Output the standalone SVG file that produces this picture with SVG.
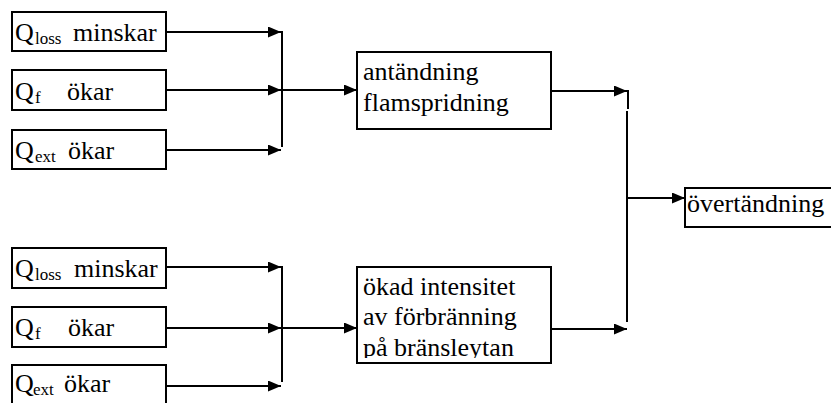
<svg xmlns="http://www.w3.org/2000/svg" width="831" height="403" viewBox="0 0 831 403">
<style>
.box{fill:#fff;stroke:#000;stroke-width:2}
text{font-family:'Liberation Serif','Times New Roman',Times,serif;font-size:26px;fill:#000}
.s{font-size:17px}
.c{stroke:#000;stroke-width:2;fill:none}
</style>
<defs>
<marker id="ah" markerUnits="userSpaceOnUse" markerWidth="14" markerHeight="12" refX="13" refY="5.5" orient="auto">
<path d="M0,0 L13,5.5 L0,11 z" fill="#000"/>
</marker>
<clipPath id="clipB"><rect x="357" y="267" width="194" height="91"/></clipPath>
</defs>
<rect width="831" height="403" fill="#fff"/>
<g id="connectors">
<line class="c" x1="167" y1="32" x2="281" y2="32" marker-end="url(#ah)"/>
<line class="c" x1="167" y1="90" x2="281" y2="90" marker-end="url(#ah)"/>
<line class="c" x1="167" y1="150" x2="281" y2="150" marker-end="url(#ah)"/>
<line class="c" x1="282" y1="31" x2="282" y2="147"/>
<line class="c" x1="282" y1="90" x2="357" y2="90" marker-end="url(#ah)"/>
<line class="c" x1="167" y1="267" x2="281" y2="267" marker-end="url(#ah)"/>
<line class="c" x1="167" y1="328" x2="281" y2="328" marker-end="url(#ah)"/>
<line class="c" x1="167" y1="386" x2="281" y2="386" marker-end="url(#ah)"/>
<line class="c" x1="282" y1="266" x2="282" y2="382"/>
<line class="c" x1="282" y1="328" x2="357" y2="328" marker-end="url(#ah)"/>
<line class="c" x1="552" y1="91" x2="627" y2="91" marker-end="url(#ah)"/>
<line class="c" x1="552" y1="329" x2="627" y2="329" marker-end="url(#ah)"/>
<line class="c" x1="628" y1="90" x2="628" y2="109"/>
<line class="c" x1="627" y1="111" x2="627" y2="322"/>
<line class="c" x1="627" y1="198" x2="685" y2="198" marker-end="url(#ah)"/>
</g>
<g id="n1">
<rect class="box" x="12" y="12" width="154" height="39"/>
<text y="41"><tspan x="15">Q</tspan><tspan class="s" x="35" y="44">loss</tspan><tspan x="73" y="41">minskar</tspan></text>
</g>
<g id="n2">
<rect class="box" x="12" y="70" width="154" height="40"/>
<text y="100"><tspan x="15">Q</tspan><tspan class="s" x="35" y="103">f</tspan><tspan x="67" y="100">ökar</tspan></text>
</g>
<g id="n3">
<rect class="box" x="12" y="130" width="154" height="39"/>
<text y="159"><tspan x="15">Q</tspan><tspan class="s" x="35" y="162">ext</tspan><tspan x="68" y="159">ökar</tspan></text>
</g>
<g id="n4">
<rect class="box" x="12" y="248" width="154" height="40"/>
<text y="277"><tspan x="15">Q</tspan><tspan class="s" x="35" y="280">loss</tspan><tspan x="74" y="277">minskar</tspan></text>
</g>
<g id="n5">
<rect class="box" x="12" y="307" width="154" height="40"/>
<text y="336"><tspan x="15">Q</tspan><tspan class="s" x="35" y="339">f</tspan><tspan x="68" y="336">ökar</tspan></text>
</g>
<g id="n6">
<rect class="box" x="12" y="365" width="154" height="50"/>
<text y="392"><tspan x="15">Q</tspan><tspan class="s" x="33" y="395">ext</tspan><tspan x="64" y="392">ökar</tspan></text>
</g>
<g id="n7">
<rect class="box" x="357" y="52" width="194" height="77"/>
<text x="363" y="80">antändning</text>
<text x="363" y="111">flamspridning</text>
</g>
<g id="n8">
<rect class="box" x="357" y="267" width="194" height="96"/>
<g clip-path="url(#clipB)">
<text x="363" y="295">ökad intensitet</text>
<text x="363" y="325">av förbränning</text>
<text x="363" y="356">på bränsleytan</text>
</g>
</g>
<g id="n9">
<rect class="box" x="685" y="188" width="160" height="39"/>
<text x="687" y="212">övertändning</text>
</g>
</svg>
